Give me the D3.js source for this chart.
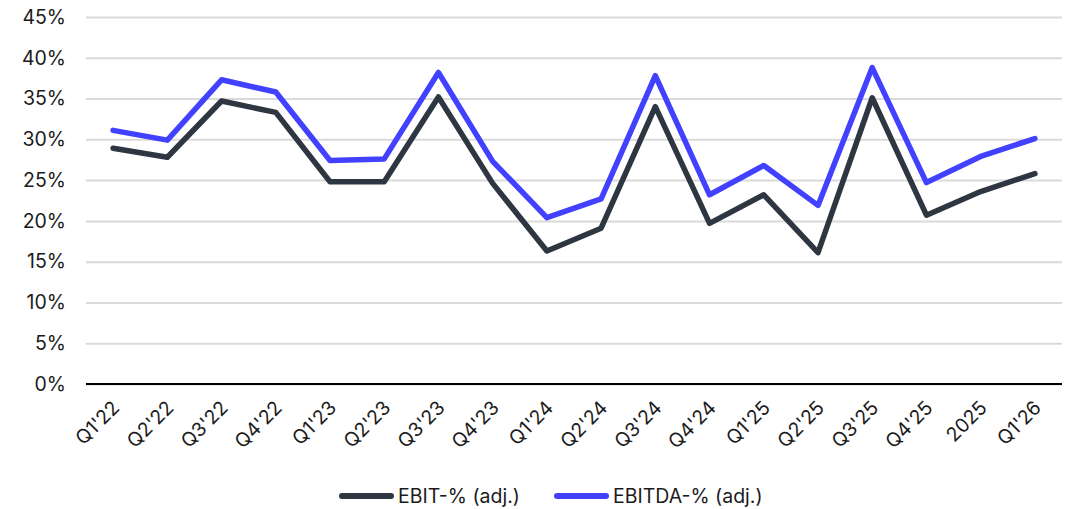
<!DOCTYPE html>
<html>
<head>
<meta charset="utf-8">
<script src="https://cdn.jsdelivr.net/npm/d3@7"></script>
<style>
  html, body { margin: 0; padding: 0; background: #fff; }
  svg { display: block; }
  text { font-family: Inter, "Noto Sans", sans-serif; fill: #1b1b1b; }
</style>
</head>
<body>
<svg id="chart" width="1074" height="509"></svg>
<script>
// Quarterly margin series (percent)
const categories = ["Q1'22","Q2'22","Q3'22","Q4'22","Q1'23","Q2'23","Q3'23","Q4'23",
  "Q1'24","Q2'24","Q3'24","Q4'24","Q1'25","Q2'25","Q3'25","Q4'25","2025","Q1'26"];
const ebit   = [28.9, 27.8, 34.7, 33.3, 24.8, 24.8, 35.2, 24.6, 16.3, 19.1, 34.0, 19.7, 23.2, 16.1, 35.1, 20.7, 23.6, 25.8];
const ebitda = [31.1, 29.9, 37.3, 35.8, 27.4, 27.6, 38.2, 27.3, 20.4, 22.7, 37.8, 23.2, 26.8, 21.9, 38.8, 24.7, 27.9, 30.1];
const yTicks = [0, 5, 10, 15, 20, 25, 30, 35, 40, 45];
const seriesNames = ["EBIT-% (adj.)", "EBITDA-% (adj.)"];
const seriesColors = ["#2e3641", "#4141ff"];

const svg = d3.select("#chart");
const plotLeft = 86, plotRight = 1062, plotTop = 17, plotBottom = 384;

const x = d3.scalePoint().domain(categories).range([plotLeft, plotRight]).padding(0.5);
const y = d3.scaleLinear().domain([0, 45]).range([plotBottom, plotTop]);

// Horizontal gridlines with percentage labels
const yAxis = svg.append("g")
  .attr("transform", `translate(${plotLeft},0)`)
  .call(d3.axisLeft(y).tickValues(yTicks).tickSize(-(plotRight - plotLeft)).tickPadding(20).tickFormat(d => d + "%"));
yAxis.select(".domain").remove();
yAxis.selectAll(".tick line").attr("stroke", "#dadada").attr("stroke-width", 2);
yAxis.selectAll(".tick text").attr("font-size", 19.5).attr("fill", "#1b1b1b");

// Baseline and rotated category labels
const xAxis = svg.append("g")
  .attr("transform", `translate(0,${plotBottom})`)
  .call(d3.axisBottom(x).tickSize(0).tickSizeOuter(0));
xAxis.select(".domain").attr("stroke", "#000").attr("stroke-width", 2.2)
  .attr("d", `M${plotLeft},0H${plotRight}`);
xAxis.selectAll(".tick text")
  .attr("font-size", 19.5)
  .attr("fill", "#1b1b1b")
  .attr("text-anchor", "end")
  .attr("dy", null)
  .attr("y", 0)
  .attr("transform", "translate(7,25) rotate(-45)");

// Series lines
const line = d3.line().x((d, i) => x(categories[i])).y(d => y(d));
[ebit, ebitda].forEach((vals, k) => {
  svg.append("path")
    .datum(vals)
    .attr("fill", "none")
    .attr("stroke", seriesColors[k])
    .attr("stroke-width", 5.5)
    .attr("stroke-linejoin", "round")
    .attr("stroke-linecap", "round")
    .attr("d", line);
});

// Legend
const legendX = [342, 557];
const legend = svg.append("g").attr("transform", "translate(0,496)");
seriesNames.forEach((name, k) => {
  const g = legend.append("g").attr("transform", `translate(${legendX[k]},0)`);
  g.append("line").attr("x1", 0).attr("x2", 49).attr("y1", 0).attr("y2", 0)
    .attr("stroke", seriesColors[k]).attr("stroke-width", 6).attr("stroke-linecap", "round");
  g.append("text").attr("x", 56).attr("y", 0).attr("dy", "0.35em")
    .attr("font-size", 19.5).text(name);
});
</script>
</body>
</html>
